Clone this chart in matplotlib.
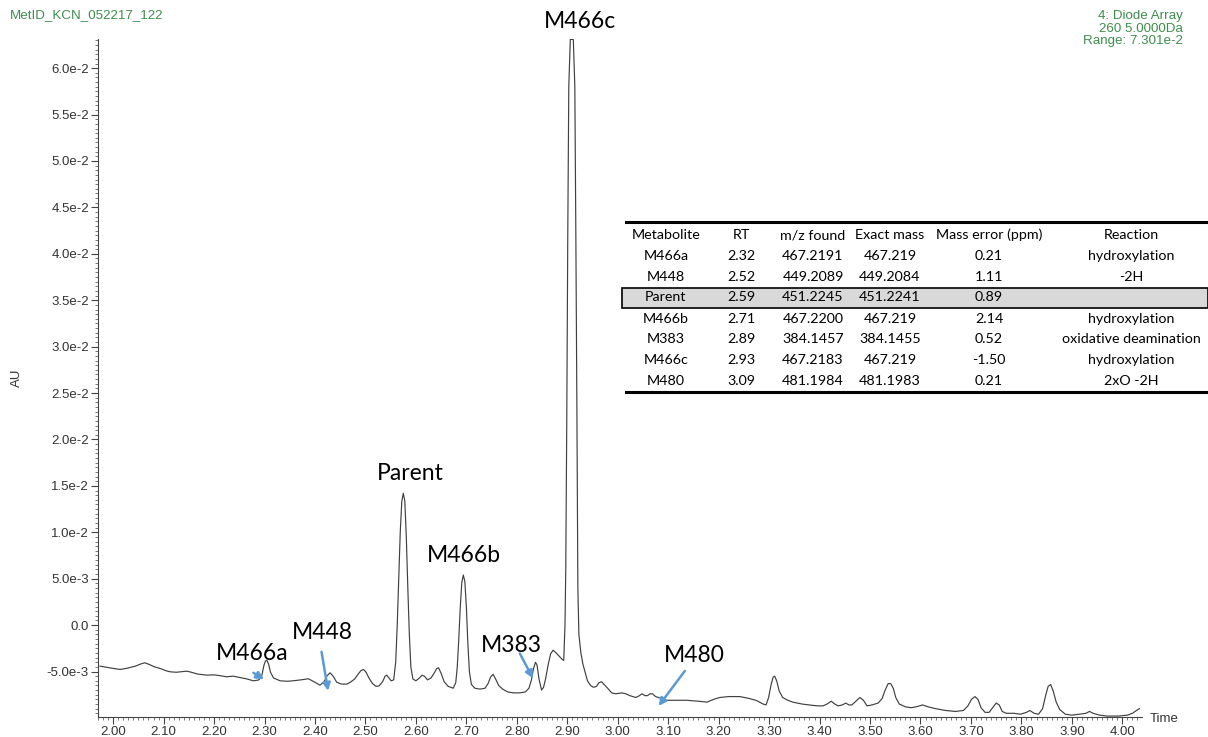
import matplotlib
matplotlib.use("Agg")
import matplotlib.pyplot as plt
from matplotlib.lines import Line2D
from matplotlib.patches import Rectangle
from matplotlib.ticker import FixedLocator, FixedFormatter, MultipleLocator

# chromatogram trace (time in min, absorbance in AU)
time_min = [
    1.974, 1.995, 2.014, 2.030, 2.045, 2.055, 2.063, 2.072, 2.082, 2.093,
    2.105, 2.113, 2.125, 2.138, 2.146, 2.155, 2.168, 2.186, 2.200, 2.212,
    2.225, 2.238, 2.251, 2.265, 2.278, 2.288, 2.294, 2.299, 2.302, 2.305,
    2.308, 2.312, 2.318, 2.331, 2.345, 2.357, 2.372, 2.387, 2.398, 2.410,
    2.418, 2.424, 2.430, 2.436, 2.443, 2.452, 2.463, 2.471, 2.479, 2.486,
    2.491, 2.496, 2.501, 2.507, 2.514, 2.521, 2.527, 2.534, 2.539, 2.542,
    2.546, 2.551, 2.556, 2.560, 2.563, 2.566, 2.569, 2.572, 2.575, 2.578,
    2.581, 2.584, 2.587, 2.590, 2.594, 2.600, 2.607, 2.612, 2.617, 2.623,
    2.630, 2.637, 2.641, 2.645, 2.650, 2.656, 2.664, 2.674, 2.679, 2.682,
    2.685, 2.688, 2.691, 2.694, 2.697, 2.700, 2.703, 2.706, 2.710, 2.717,
    2.727, 2.737, 2.743, 2.748, 2.753, 2.758, 2.764, 2.772, 2.782, 2.793,
    2.806, 2.817, 2.824, 2.829, 2.833, 2.837, 2.840, 2.844, 2.849, 2.853,
    2.857, 2.862, 2.867, 2.872, 2.878, 2.885, 2.890, 2.893, 2.8955, 2.897,
    2.899, 2.901, 2.903, 2.906, 2.912, 2.915, 2.917, 2.919, 2.921, 2.923,
    2.927, 2.931, 2.935, 2.940, 2.946, 2.952, 2.958, 2.963, 2.968, 2.973,
    2.980, 2.988, 2.996, 3.008, 3.016, 3.024, 3.036, 3.043, 3.048, 3.054,
    3.059, 3.064, 3.069, 3.075, 3.081, 3.090, 3.097, 3.137, 3.160, 3.177,
    3.190, 3.202, 3.220, 3.242, 3.260, 3.274, 3.288, 3.294, 3.299, 3.304,
    3.308, 3.311, 3.315, 3.320, 3.327, 3.337, 3.347, 3.365, 3.379, 3.395,
    3.407, 3.415, 3.423, 3.430, 3.437, 3.445, 3.452, 3.458, 3.464, 3.472,
    3.480, 3.487, 3.494, 3.504, 3.516, 3.524, 3.530, 3.536, 3.541, 3.546,
    3.551, 3.558, 3.570, 3.581, 3.592, 3.604, 3.615, 3.630, 3.650, 3.669,
    3.685, 3.694, 3.701, 3.708, 3.714, 3.720, 3.728, 3.736, 3.743, 3.750,
    3.756, 3.762, 3.770, 3.785, 3.798, 3.810, 3.817, 3.825, 3.834, 3.842,
    3.848, 3.853, 3.858, 3.863, 3.869, 3.876, 3.887, 3.900, 3.915, 3.928,
    3.935, 3.942, 3.955, 3.970, 3.992, 4.010, 4.020, 4.028, 4.034,
]
au = [
    -0.00442, -0.00462, -0.00478, -0.00462, -0.00440, -0.00418, -0.00406, -0.00425, -0.00450, -0.00467,
    -0.00492, -0.00503, -0.00508, -0.00500, -0.00496, -0.00508, -0.00528, -0.00539, -0.00536, -0.00545,
    -0.00557, -0.00550, -0.00564, -0.00580, -0.00600, -0.00592, -0.00560, -0.00430, -0.00385, -0.00380,
    -0.00420, -0.00510, -0.00570, -0.00600, -0.00605, -0.00600, -0.00590, -0.00578, -0.00610, -0.00647,
    -0.00610, -0.00545, -0.00514, -0.00550, -0.00615, -0.00635, -0.00636, -0.00612, -0.00579, -0.00525,
    -0.00490, -0.00478, -0.00505, -0.00570, -0.00630, -0.00660, -0.00655, -0.00610, -0.00550, -0.00539,
    -0.00565, -0.00600, -0.00590, -0.00400, 0.00000, 0.00500, 0.01000, 0.01330, 0.01420, 0.01340,
    0.00950, 0.00400, -0.00100, -0.00450, -0.00580, -0.00600, -0.00570, -0.00540, -0.00550, -0.00590,
    -0.00570, -0.00510, -0.00470, -0.00460, -0.00520, -0.00610, -0.00660, -0.00680, -0.00620, -0.00450,
    -0.00150, 0.00200, 0.00460, 0.00540, 0.00470, 0.00200, -0.00200, -0.00500, -0.00640, -0.00680,
    -0.00690, -0.00680, -0.00630, -0.00560, -0.00530, -0.00580, -0.00650, -0.00690, -0.00720, -0.00730,
    -0.00730, -0.00720, -0.00680, -0.00590, -0.00470, -0.00400, -0.00430, -0.00580, -0.00700, -0.00670,
    -0.00580, -0.00430, -0.00310, -0.00270, -0.00300, -0.00340, -0.00370, -0.00380, 0.00000, 0.00600,
    0.02200, 0.04200, 0.05800, 0.06310, 0.06310, 0.05800, 0.04200, 0.02400, 0.00400, -0.00100,
    -0.00300, -0.00420, -0.00500, -0.00600, -0.00650, -0.00670, -0.00660, -0.00620, -0.00610, -0.00640,
    -0.00680, -0.00730, -0.00740, -0.00730, -0.00740, -0.00760, -0.00780, -0.00760, -0.00740, -0.00760,
    -0.00760, -0.00740, -0.00740, -0.00770, -0.00780, -0.00800, -0.00810, -0.00810, -0.00820, -0.00830,
    -0.00800, -0.00780, -0.00770, -0.00770, -0.00790, -0.00810, -0.00850, -0.00860, -0.00780, -0.00640,
    -0.00560, -0.00550, -0.00600, -0.00710, -0.00780, -0.00810, -0.00830, -0.00850, -0.00860, -0.00870,
    -0.00870, -0.00850, -0.00820, -0.00850, -0.00870, -0.00860, -0.00840, -0.00860, -0.00860, -0.00820,
    -0.00780, -0.00810, -0.00870, -0.00860, -0.00840, -0.00790, -0.00700, -0.00630, -0.00630, -0.00680,
    -0.00780, -0.00850, -0.00880, -0.00890, -0.00880, -0.00860, -0.00880, -0.00900, -0.00920, -0.00930,
    -0.00920, -0.00870, -0.00800, -0.00770, -0.00800, -0.00890, -0.00940, -0.00940, -0.00890, -0.00840,
    -0.00860, -0.00930, -0.00950, -0.00950, -0.00960, -0.00940, -0.00920, -0.00950, -0.00960, -0.00900,
    -0.00760, -0.00660, -0.00640, -0.00710, -0.00830, -0.00910, -0.00960, -0.00970, -0.00960, -0.00950,
    -0.00930, -0.00950, -0.00970, -0.00980, -0.00980, -0.00970, -0.00950, -0.00920, -0.00900,
]

ytick_vals = [-0.005, 0.0, 0.005, 0.010, 0.015, 0.020, 0.025, 0.030,
              0.035, 0.040, 0.045, 0.050, 0.055, 0.060]
ytick_labels = ["-5.0e-3", "0.0", "5.0e-3", "1.0e-2", "1.5e-2", "2.0e-2", "2.5e-2",
                "3.0e-2", "3.5e-2", "4.0e-2", "4.5e-2", "5.0e-2", "5.5e-2", "6.0e-2"]
xtick_vals = [2.0, 2.1, 2.2, 2.3, 2.4, 2.5, 2.6, 2.7, 2.8, 2.9, 3.0,
              3.1, 3.2, 3.3, 3.4, 3.5, 3.6, 3.7, 3.8, 3.9, 4.0]
xtick_labels = ["%.2f" % v for v in xtick_vals]

# peak names and where they are written / pointed
peak_names = ["M466c", "Parent", "M466b", "M466a", "M448", "M383", "M480"]
peak_text_pos = [(2.925, 0.0650), (2.588, 0.01638), (2.695, 0.00754), (2.275, -0.00302),
                 (2.414, -0.00075), (2.790, -0.00216), (3.152, -0.00323)]
arrow_from = {"M466a": (2.278, -0.00514), "M448": (2.413, -0.00288),
              "M383": (2.806, -0.00305), "M480": (3.133, -0.00494)}
arrow_to = {"M466a": (2.299, -0.00585), "M448": (2.426, -0.00708),
            "M383": (2.832, -0.00574), "M480": (3.081, -0.00871)}

# metabolite table
table_header = ["Metabolite", "RT", "m/z found", "Exact mass", "Mass error (ppm)", "Reaction"]
metabolites = ["M466a", "M448", "Parent", "M466b", "M383", "M466c", "M480"]
rt = ["2.32", "2.52", "2.59", "2.71", "2.89", "2.93", "3.09"]
mz_found = ["467.2191", "449.2089", "451.2245", "467.2200", "384.1457", "467.2183", "481.1984"]
exact_mass = ["467.219", "449.2084", "451.2241", "467.219", "384.1455", "467.219", "481.1983"]
mass_error = ["0.21", "1.11", "0.89", "2.14", "0.52", "-1.50", "0.21"]
reaction = ["hydroxylation", "-2H", "", "hydroxylation", "oxidative deamination",
            "hydroxylation", "2xO -2H"]

W, H = 1208, 737
GREEN = "#3e8e4e"
BLUE = "#5b9bd5"
AX_FONT = "Liberation Sans"
LBL_FONT = "Lato"


def fx(x):
    return x / W


def fy(y):
    return 1 - y / H


fig = plt.figure(figsize=(W / 100, H / 100), dpi=100)
ax = fig.add_axes([fx(98), fy(717), fx(1142) - fx(98), fy(39.4) - fy(717)])

ax.plot(time_min, au, color="#404040", lw=0.85)
ax.set_xlim(1.970, 4.039)
ax.set_ylim(-0.0099, 0.0631)

for s in ["top", "right"]:
    ax.spines[s].set_visible(False)
for s in ["left", "bottom"]:
    ax.spines[s].set_color("#444444")
    ax.spines[s].set_linewidth(0.8)

ax.xaxis.set_major_locator(FixedLocator(xtick_vals))
ax.xaxis.set_major_formatter(FixedFormatter(xtick_labels))
ax.xaxis.set_minor_locator(MultipleLocator(0.01))
ax.yaxis.set_major_locator(FixedLocator(ytick_vals))
ax.yaxis.set_major_formatter(FixedFormatter(ytick_labels))
ax.yaxis.set_minor_locator(MultipleLocator(0.0005))
ax.tick_params(which="major", direction="out", length=5, width=0.8, color="#444444",
               labelsize=9.5, labelcolor="#333333", pad=1.5)
ax.tick_params(which="minor", direction="out", length=2.5, width=0.6, color="#666666")
for lab in ax.get_xticklabels() + ax.get_yticklabels():
    lab.set_fontfamily(AX_FONT)

fig.text(fx(1150), fy(719), "Time", fontsize=9.5, color="#333333",
         family=AX_FONT, ha="left", va="center")
fig.text(fx(17), fy(378), "AU", fontsize=9.5, color="#333333", family=AX_FONT,
         rotation=90, ha="center", va="center")

fig.text(fx(10), fy(15), "MetID_KCN_052217_122", fontsize=9.6, color=GREEN,
         family=AX_FONT, ha="left", va="center")
for i, line in enumerate(["4: Diode Array", "260 5.0000Da", "Range: 7.301e-2"]):
    fig.text(fx(1183), fy(16 + 12.5 * i), line, fontsize=9.6, color=GREEN,
             family=AX_FONT, ha="right", va="center")

for name, pos in zip(peak_names, peak_text_pos):
    ax.text(pos[0], pos[1], name, fontsize=16.5, family=LBL_FONT, color="black",
            ha="center", va="center", clip_on=False)
    if name in arrow_from:
        ax.annotate("", xy=arrow_to[name], xytext=arrow_from[name],
                    arrowprops=dict(arrowstyle="-|>", color=BLUE, lw=1.8,
                                    mutation_scale=11, shrinkA=0, shrinkB=0))

# table
col_x = [666, 741, 813, 890, 989, 1131]
row_y = [256, 277, 297, 319, 339, 360, 381]
fig.add_artist(Rectangle((fx(622), fy(307.5)), fx(1208) - fx(622), fy(287.5) - fy(307.5),
                         facecolor="#d9d9d9", edgecolor="black", lw=1.2))
fig.add_artist(Line2D([fx(626), fx(1208)], [fy(222), fy(222)], color="black", lw=2.2))
fig.add_artist(Line2D([fx(626), fx(1208)], [fy(392), fy(392)], color="black", lw=2.2))
for cx, h in zip(col_x, table_header):
    fig.text(fx(cx), fy(235), h, fontsize=10.3, family=LBL_FONT, ha="center", va="center")
cols = [metabolites, rt, mz_found, exact_mass, mass_error, reaction]
for cx, col in zip(col_x, cols):
    for ry, val in zip(row_y, col):
        fig.text(fx(cx), fy(ry), val, fontsize=10.3, family=LBL_FONT,
                 ha="center", va="center")

fig.savefig("out.png", dpi=100)
